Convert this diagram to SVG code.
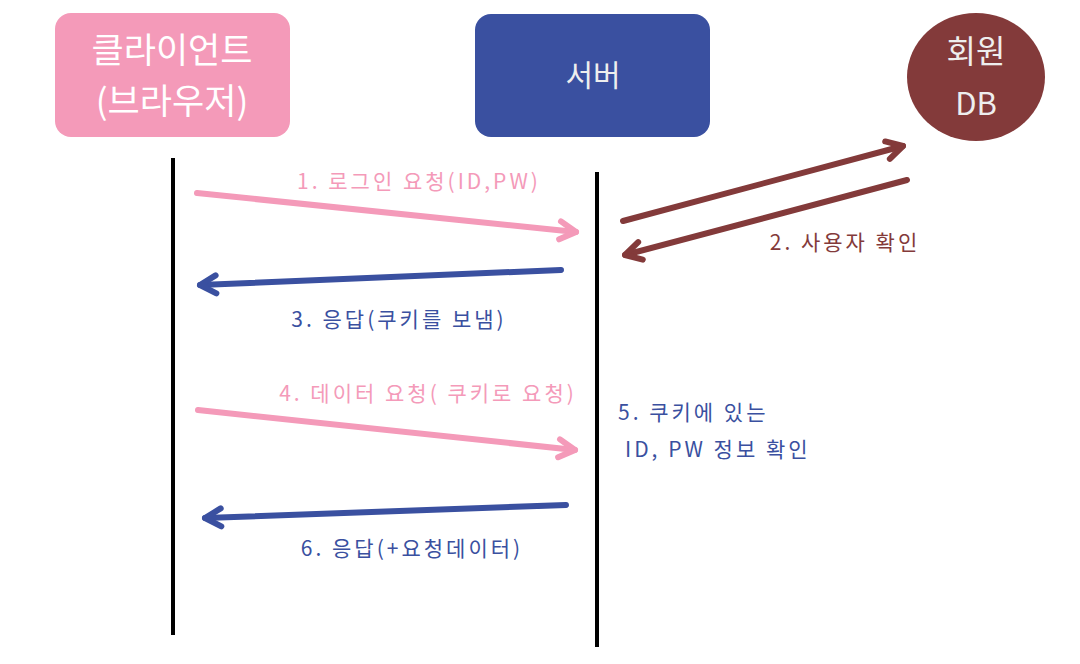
<svg xmlns="http://www.w3.org/2000/svg" width="1080" height="664" viewBox="0 0 1080 664">
<style>
.lbl{font-family:"Noto Sans CJK KR","Noto Sans",sans-serif;font-size:21px;letter-spacing:3px;}
.node-t{font-family:"Noto Sans CJK KR","Noto Sans",sans-serif;fill:#ffffff;text-anchor:middle;}
.pink{fill:#F49AB9;}
.blue{fill:#3A50A0;}
.brown{fill:#833A3A;}
.arr{fill:none;stroke-width:6;stroke-linecap:round;}
.life{stroke:#000;stroke-width:4;}
</style>
<defs>
<marker id="ah-pink" markerUnits="userSpaceOnUse" markerWidth="30" markerHeight="30" viewBox="-20 -15 30 30" refX="0" refY="0" orient="auto" overflow="visible">
<path d="M-16,-9 L0,0 L-16,9" fill="none" stroke="#F49AB9" stroke-width="6" stroke-linecap="round" stroke-linejoin="round"/>
</marker>
<marker id="ah-blue" markerUnits="userSpaceOnUse" markerWidth="30" markerHeight="30" viewBox="-20 -15 30 30" refX="0" refY="0" orient="auto" overflow="visible">
<path d="M-16,-9 L0,0 L-16,9" fill="none" stroke="#3A50A0" stroke-width="6" stroke-linecap="round" stroke-linejoin="round"/>
</marker>
<marker id="ah-brown" markerUnits="userSpaceOnUse" markerWidth="30" markerHeight="30" viewBox="-20 -15 30 30" refX="0" refY="0" orient="auto" overflow="visible">
<path d="M-16,-9 L0,0 L-16,9" fill="none" stroke="#833A3A" stroke-width="6" stroke-linecap="round" stroke-linejoin="round"/>
</marker>
</defs>
<rect width="1080" height="664" fill="#ffffff"/>

<g id="client">
<rect x="55" y="13" width="235" height="124" rx="16" class="pink"/>
<text x="172" y="63" class="node-t" font-size="35">클라이언트</text>
<text x="172" y="114" class="node-t" font-size="35">(브라우저)</text>
</g>

<g id="server">
<rect x="475" y="14" width="235" height="123" rx="16" class="blue"/>
<text x="593" y="86" class="node-t" font-size="30" style="fill:#eeeeee">서버</text>
</g>

<g id="memberdb">
<ellipse cx="976" cy="77" rx="69" ry="64" class="brown"/>
<text x="976" y="63" class="node-t" font-size="32" style="fill:#eeeeee">회원</text>
<text x="976" y="115" class="node-t" font-size="31" style="fill:#eeeeee">DB</text>
</g>

<g id="lifelines">
<line x1="173" y1="158" x2="173" y2="635" class="life"/>
<line x1="597" y1="172" x2="597" y2="647" class="life"/>
</g>

<g id="connectors">
<line x1="197" y1="193" x2="576" y2="232" class="arr" stroke="#F49AB9" marker-end="url(#ah-pink)"/>
<line x1="623" y1="221" x2="903" y2="146" class="arr" stroke="#833A3A" marker-end="url(#ah-brown)"/>
<line x1="907" y1="180" x2="625" y2="255" class="arr" stroke="#833A3A" marker-end="url(#ah-brown)"/>
<line x1="561" y1="270" x2="200" y2="285" class="arr" stroke="#3A50A0" marker-end="url(#ah-blue)"/>
<line x1="198" y1="410" x2="575" y2="450" class="arr" stroke="#F49AB9" marker-end="url(#ah-pink)"/>
<line x1="566" y1="505" x2="205" y2="518" class="arr" stroke="#3A50A0" marker-end="url(#ah-blue)"/>
</g>

<g id="labels">
<text x="419" y="189" class="lbl pink" text-anchor="middle">1. 로그인 요청(ID,PW)</text>
<text x="845" y="250" class="lbl brown" text-anchor="middle">2. 사용자 확인</text>
<text x="399" y="327" class="lbl blue" text-anchor="middle">3. 응답(쿠키를 보냄)</text>
<text x="428" y="401" class="lbl pink" text-anchor="middle">4. 데이터 요청( 쿠키로 요청)</text>
<text x="618" y="420" class="lbl blue">5. 쿠키에 있는</text>
<text x="625" y="457" class="lbl blue">ID, PW 정보 확인</text>
<text x="412" y="556" class="lbl blue" text-anchor="middle">6. 응답(+요청데이터)</text>
</g>
</svg>
